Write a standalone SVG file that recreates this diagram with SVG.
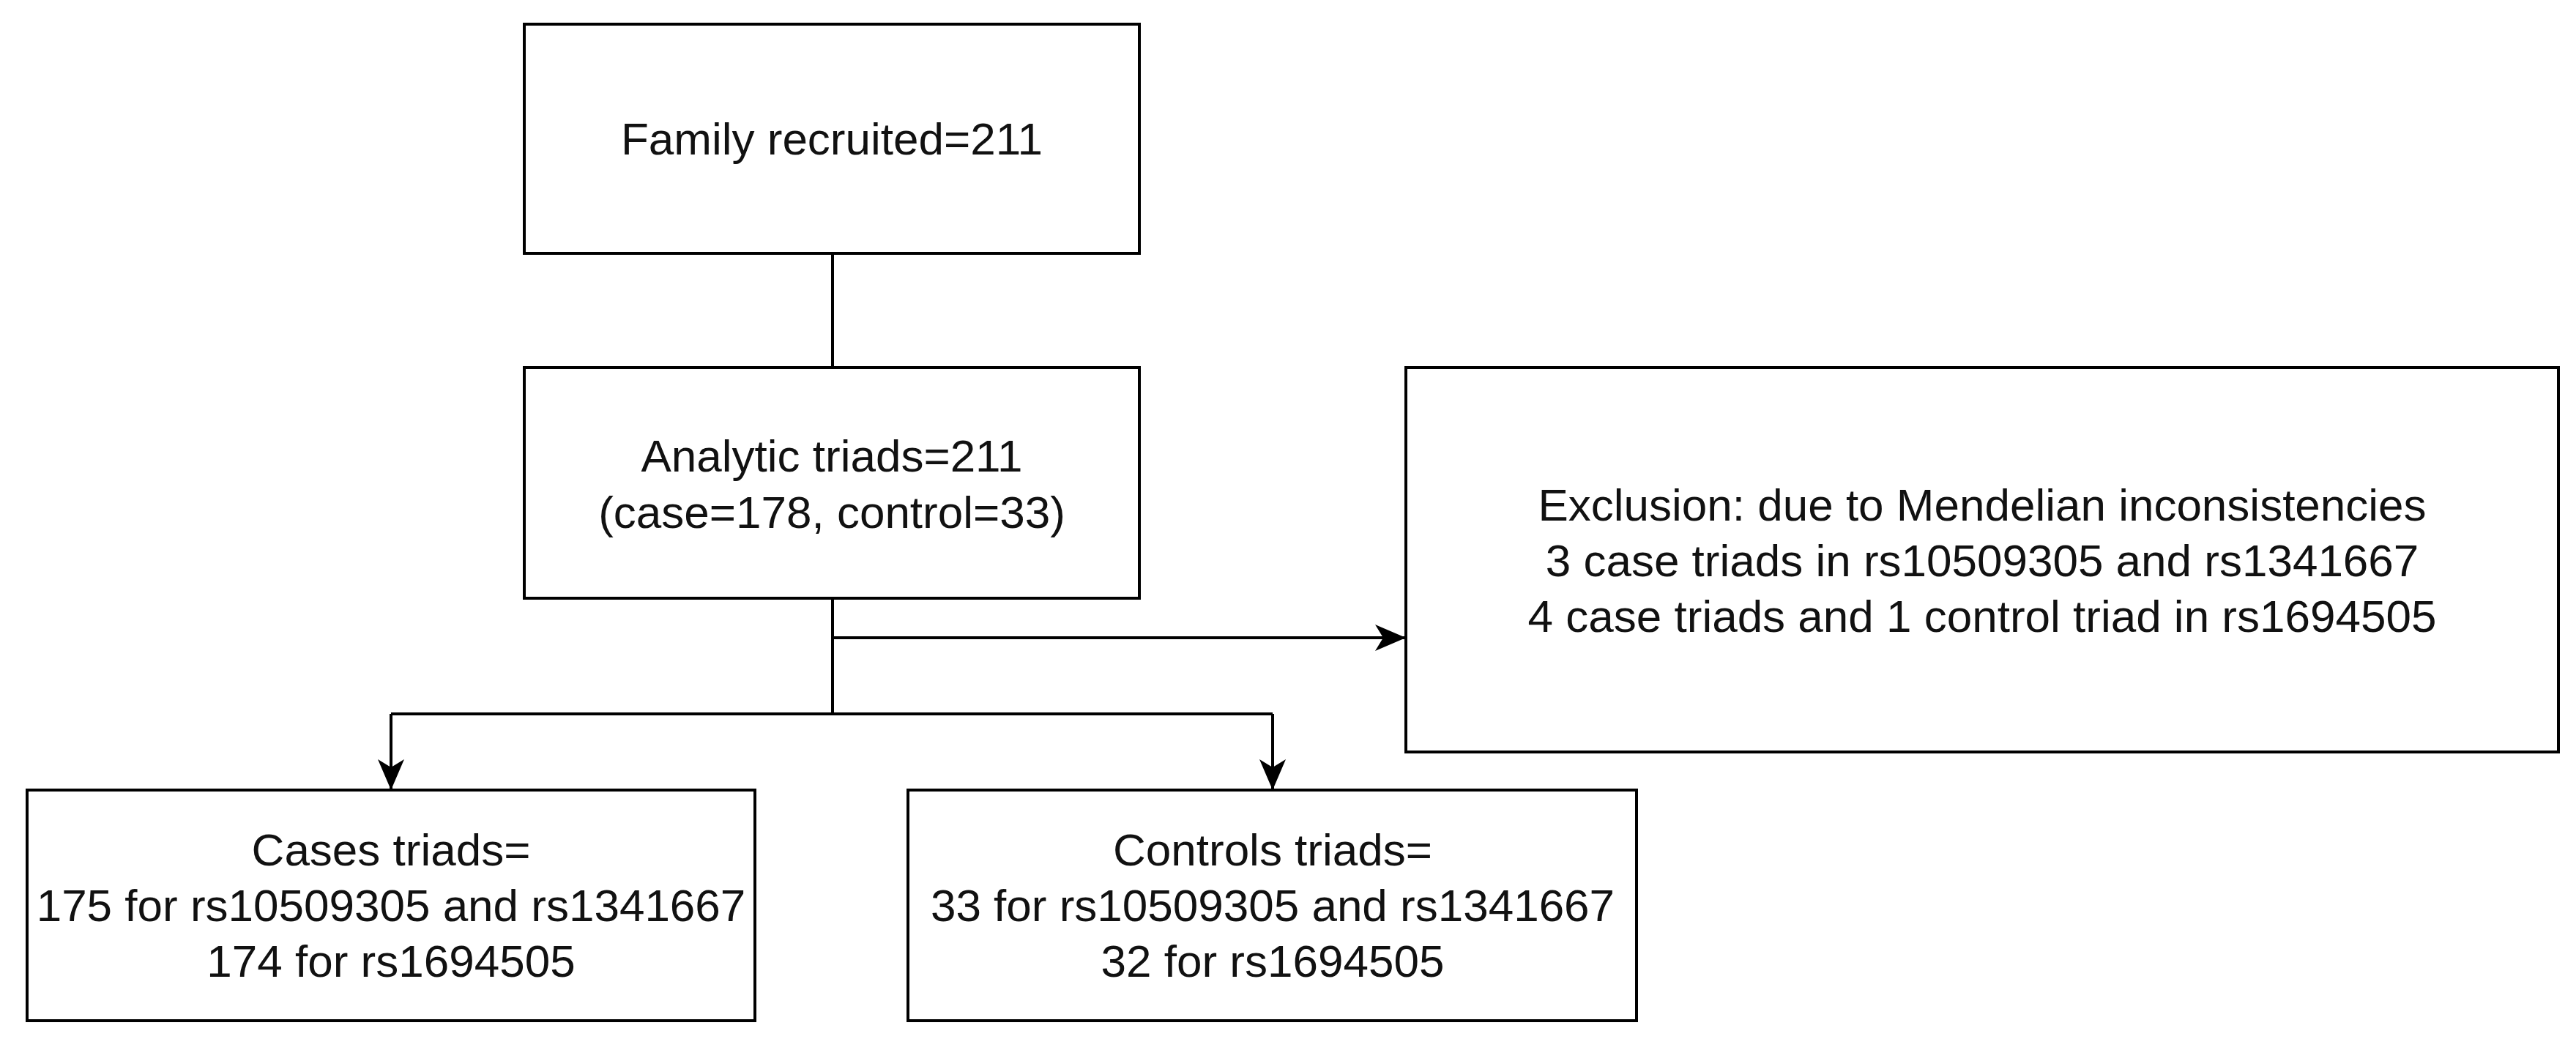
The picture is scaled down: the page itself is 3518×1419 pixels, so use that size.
<svg xmlns="http://www.w3.org/2000/svg" width="3518" height="1419" viewBox="0 0 3518 1419">
<style>
rect{fill:#fff;stroke:#000;stroke-width:4}
text{font-family:"Liberation Sans",Arial,sans-serif;font-size:62px;text-anchor:middle;fill:#111}
.c{fill:none;stroke:#000;stroke-width:4}
</style>
<defs><marker id="b" markerWidth="44" markerHeight="44" refX="40" refY="22" orient="auto" markerUnits="userSpaceOnUse"><path d="M0,4 L42,22 L0,40 L11,22 Z" fill="#000"/></marker></defs>
<rect width="3518" height="1419" style="stroke:none"/>
<g id="connectors">
<path class="c" d="M1137,346 V502"/>
<path class="c" d="M1137,817 V975"/>
<path class="c" d="M1137,871 H1918" marker-end="url(#b)"/>
<path class="c" d="M534,975 H1738"/>
<path class="c" d="M534,975 V1077" marker-end="url(#b)"/>
<path class="c" d="M1738,975 V1077" marker-end="url(#b)"/>
</g>
<g id="family"><rect x="716" y="33" width="840" height="313"/><text x="1136" y="211">Family recruited=211</text></g>
<g id="analytic"><rect x="716" y="502" width="840" height="315"/><text x="1136" y="644">Analytic triads=211</text><text x="1136" y="721">(case=178, control=33)</text></g>
<g id="exclusion"><rect x="1920" y="502" width="1574" height="525"/><text x="2707" y="711">Exclusion: due to Mendelian inconsistencies</text><text x="2707" y="787">3 case triads in rs10509305 and rs1341667</text><text x="2707" y="863">4 case triads and 1 control triad in rs1694505</text></g>
<g id="cases"><rect x="37" y="1079" width="994" height="315"/><text x="534" y="1182">Cases triads=</text><text x="534" y="1258">175 for rs10509305 and rs1341667</text><text x="534" y="1334">174 for rs1694505</text></g>
<g id="controls"><rect x="1240" y="1079" width="995" height="315"/><text x="1738" y="1182">Controls triads=</text><text x="1738" y="1258">33 for rs10509305 and rs1341667</text><text x="1738" y="1334">32 for rs1694505</text></g>
</svg>
